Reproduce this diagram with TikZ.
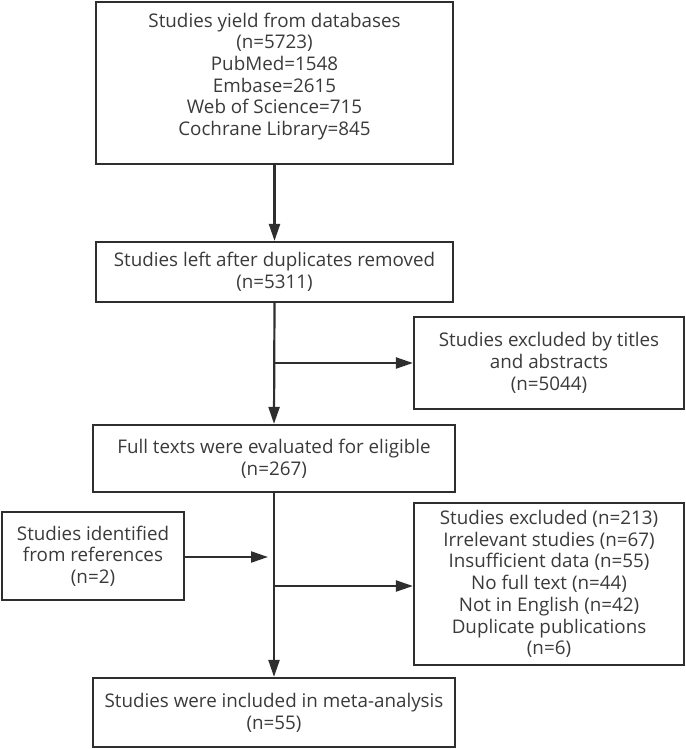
\documentclass[tikz,border=0pt]{standalone}
\usepackage{fontspec}
\setmainfont{Open Sans}
\usetikzlibrary{arrows.meta}
\definecolor{ink}{HTML}{2E2E2E}
\definecolor{txt}{HTML}{3A3A3A}
\tikzset{
  box/.style={draw=ink, line width=2.2pt, align=center, inner sep=0pt, text=txt,
              font=\fontsize{18.8}{21.7}\selectfont},
  flow/.style={draw=ink, line width=2.2pt, -{Triangle[length=17pt,width=11pt]}}
}
\begin{document}
\begin{tikzpicture}[x=1pt,y=-1pt]
\useasboundingbox (0,0) rectangle (685,749);
\node[box, minimum width=357pt, minimum height=162pt] (db) at (274.5,83)
  {Studies yield from databases\\(n=5723)\\PubMed=1548\\Embase=2615\\Web of Science=715\\Cochrane Library=845\\[-4pt]};
\node[box, minimum width=357pt, minimum height=60pt] (dup) at (274.5,272)
  {Studies left after duplicates removed\\(n=5311)};
\node[box, minimum width=270pt, minimum height=92pt] (ex1) at (549,363)
  {Studies excluded by titles\\and abstracts\\(n=5044)};
\node[box, minimum width=362pt, minimum height=67pt] (full) at (274,458.5)
  {Full texts were evaluated for eligible\\(n=267)};
\node[box, minimum width=182pt, minimum height=88pt] (refs) at (93,556)
  {Studies identified\\from references\\(n=2)};
\node[box, minimum width=270pt, minimum height=162pt] (ex2) at (549,584)
  {Studies excluded (n=213)\\Irrelevant studies (n=67)\\Insufficient data (n=55)\\No full text (n=44)\\Not in English (n=42)\\Duplicate publications\\(n=6)};
\node[box, minimum width=362pt, minimum height=69pt] (inc) at (274,712.5)
  {Studies were included in meta-analysis\\(n=55)};
\coordinate (b1) at (273.5,363);
\coordinate (b2) at (273.5,586);
\coordinate (j) at (268,557);
\draw[flow] (db.south) -- (dup.north);
\draw[flow] (dup.south) -- (full.north);
\draw[flow] (full.south) -- (inc.north);
\draw[flow] (b1) -- (ex1.west);
\draw[flow] (b2) -- (b2 -| ex2.west);
\draw[flow] (refs.east |- j) -- (j);
\end{tikzpicture}
\end{document}
